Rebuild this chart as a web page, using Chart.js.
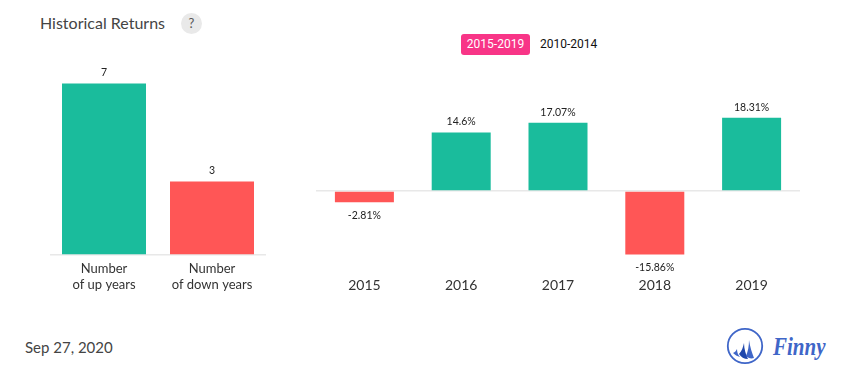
<!DOCTYPE html>
<html><head><meta charset="utf-8">
<script src="https://cdn.jsdelivr.net/npm/chart.js@4"></script>
<style>
html,body{margin:0;padding:0;background:#fff;width:855px;height:382px;overflow:hidden;font-family:Lato,sans-serif}
.a{position:absolute;white-space:nowrap}
canvas{position:absolute}
</style></head><body>
<div class="a" style="left:40px;top:13px;font-size:16px;line-height:20px;color:#444">Historical Returns</div>
<div class="a" style="left:181px;top:13px;width:21px;height:21px;border-radius:50%;background:#e9e9e9;color:#555;font-size:13px;line-height:21px;text-align:center">?</div>
<div class="a" style="left:461px;top:34px;width:69px;height:21px;border-radius:3px;background:#f83587;color:#fff;font:12px/21px Roboto,sans-serif;text-align:center">2015-2019</div>
<div class="a" style="left:540px;top:34px;color:#111;font:12px/21px Roboto,sans-serif">2010-2014</div>
<div class="a" style="left:25px;top:337px;font-size:15px;line-height:20px;color:#444">Sep 27, 2020</div>
<svg class="a" style="left:726px;top:327px" width="40" height="40" viewBox="0 0 40 40">
<circle cx="19" cy="19" r="17.2" fill="none" stroke="#3f66c8" stroke-width="1.8"/>
<path d="M23 13 C24 20 26 26 28 31 C25 32 22 31 20 29 C22 24 23 19 23 13Z" fill="#3f66c8"/>
<path d="M18 16 C18 22 20 28 22 32 C18 32 15 30 13 27 C16 24 17 20 18 16Z" fill="#1f47ab"/>
<path d="M11 22 C11 25 12 28 14 30 C11 29 9 28 7 26 C9 25 10 24 11 22Z" fill="#3f66c8"/>
</svg>
<div class="a" style="left:773px;top:330px;font:italic bold 25px/34px 'Liberation Serif',serif;color:#3f66c8;transform:scaleX(.84);transform-origin:left center">Finny</div>
<canvas id="left" style="left:50px;top:59px" width="216" height="240"></canvas>
<canvas id="right" style="left:316px;top:71px" width="484" height="230"></canvas>
<script>
const countCategories = [["Number","of up years"],["Number","of down years"]];
const countValues = [7,3];
const countKinds = ["up","down"];
const yearCategories = ["2015","2016","2017","2018","2019"];
const yearReturns = [-2.81,14.6,17.07,-15.86,18.31];
const yearLabels = ["-2.81%","14.6%","17.07%","-15.86%","18.31%"];
const GREEN="#1abc9c", RED="#ff5656", LINE="#e8e8e8";

const valueLabels = {
  id:'valueLabels',
  afterDatasetsDraw(chart,_,opts){
    const {ctx}=chart, meta=chart.getDatasetMeta(0);
    ctx.save();
    ctx.font=opts.font; ctx.fillStyle="#222"; ctx.textAlign="center"; ctx.textBaseline="middle";
    meta.data.forEach((b,i)=>{
      const v=chart.data.datasets[0].data[i];
      ctx.fillText(opts.text[i], b.x, v>=0 ? b.y-opts.gapUp : b.y+opts.gapDown);
    });
    ctx.restore();
  }
};
function fixHeight(h){return s=>{s.height=h;};}
function make(id,labels,data,colors,text,bw,min,max,xh,tickFont,gapUp,gapDown,step,padding,lineHeight){
  new Chart(document.getElementById(id),{
    type:'bar',
    data:{labels,datasets:[{data,backgroundColor:colors,borderWidth:0,barPercentage:bw,categoryPercentage:1}]},
    plugins:[valueLabels],
    options:{
      responsive:false,animation:false,
      layout:{padding:0},
      plugins:{legend:{display:false},tooltip:{enabled:false},
        valueLabels:{text,font:"10.5px Lato",gapUp,gapDown}},
      scales:{
        x:{afterFit:fixHeight(xh),grid:{display:false},border:{display:false},
           ticks:{color:"#333",padding,autoSkip:false,maxRotation:0,font:{family:"Lato",size:tickFont,lineHeight}}},
        y:{min,max,display:true,afterFit:s=>{s.width=0;},
           ticks:{display:false,stepSize:step},border:{display:false},
           grid:{drawTicks:false,lineWidth:c=>c.tick.value===0?1.5:0,color:LINE}}
      }
    }
  });
}
make('left',countCategories,countValues,countKinds.map(k=>k==="up"?GREEN:RED),countValues.map(String),84/108,0,8,44,13,11,11,1,-2,1.2);
make('right',yearCategories,yearReturns,yearReturns.map(v=>v>=0?GREEN:RED),yearLabels,59/96.8,-20,30,30,14,10.5,13.5,10,-2,1.2);
</script>
</body></html>
